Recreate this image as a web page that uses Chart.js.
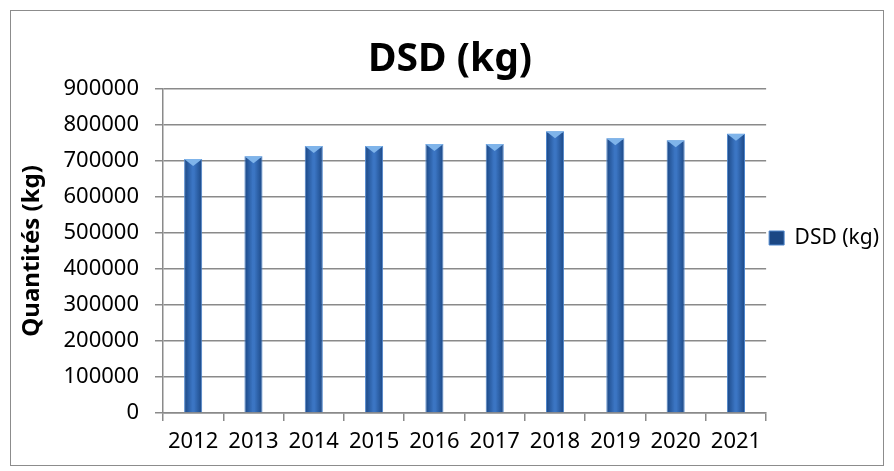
<!DOCTYPE html>
<html>
<head>
<meta charset="utf-8">
<script src="https://cdn.jsdelivr.net/npm/chart.js@4.4.0/dist/chart.umd.min.js"></script>
<style>
  body { margin: 0; background: #fff; }
  #frame { position: absolute; left: 10px; top: 10px; width: 872px; height: 454px; border: 1px solid #8c8c8c; }
  #wrap { position: absolute; left: 0; top: 0; width: 872px; height: 454px; }
</style>
</head>
<body>
<div id="frame"><div id="wrap"><canvas id="dsdChart"></canvas></div></div>
<script>
// values
var years = ['2012', '2013', '2014', '2015', '2016', '2017', '2018', '2019', '2020', '2021'];
var dsdValues = [705000, 713000, 741000, 741000, 747000, 747000, 782000, 763000, 757000, 775000];
var yTicks = [0, 100000, 200000, 300000, 400000, 500000, 600000, 700000, 800000, 900000];

var fontMain = "'Noto Sans', 'Open Sans', sans-serif";

function barFill(context) {
  var chart = context.chart;
  var xs = chart.scales && chart.scales.x;
  if (!xs || context.dataIndex === undefined || !chart.chartArea) return '#2f63ad';
  var cx = xs.getPixelForValue(context.dataIndex);
  var half = 9;
  var g = chart.ctx.createLinearGradient(cx - half, 0, cx + half, 0);
  g.addColorStop(0, '#1b4784');
  g.addColorStop(0.45, '#3b75c3');
  g.addColorStop(0.55, '#3b75c3');
  g.addColorStop(1, '#1b4784');
  return g;
}

// light blue wedge on top of each bar
var topCap = {
  id: 'topCap',
  afterDatasetsDraw: function (chart) {
    var ctx = chart.ctx;
    chart.getDatasetMeta(0).data.forEach(function (bar) {
      var w = bar.width / 2;
      ctx.save();
      ctx.fillStyle = '#7fb4ea';
      ctx.beginPath();
      ctx.moveTo(bar.x - w, bar.y);
      ctx.lineTo(bar.x + w, bar.y);
      ctx.lineTo(bar.x, bar.y + 7);
      ctx.closePath();
      ctx.fill();
      ctx.restore();
    });
  }
};

const ctx = document.getElementById('dsdChart').getContext('2d');

new Chart(ctx, {
  type: 'bar',
  data: {
    labels: years,
    datasets: [{
      label: 'DSD (kg)',
      data: dsdValues,
      backgroundColor: barFill,
      borderColor: '#4f86cc',
      borderWidth: 1,
      barPercentage: 0.3,
      categoryPercentage: 1
    }]
  },
  options: {
    responsive: true,
    maintainAspectRatio: false,
    animation: false,
    layout: { padding: { left: 0, right: -6, top: 0, bottom: 0 } },
    scales: {
      y: {
        min: 0,
        max: 900000,
        afterBuildTicks: function (axis) {
          axis.ticks = yTicks.map(function (v) { return { value: v }; });
        },
        afterFit: function (scale) { scale.width = 152; },
        grid: { color: '#8a8a8a', lineWidth: 1.5, tickLength: 8 },
        border: { color: '#8a8a8a', width: 1.5 },
        ticks: {
          color: '#000',
          font: { family: fontMain, size: 22 },
          padding: 16,
          callback: function (v) { return String(v); }
        },
        title: {
          display: true,
          text: 'Quantités (kg)',
          color: '#000',
          font: { family: fontMain, size: 24, weight: 'bold' },
          padding: { top: 7, bottom: 0 }
        }
      },
      x: {
        afterFit: function (scale) { scale.height = 52; },
        grid: { offset: true, drawOnChartArea: false, color: '#8a8a8a', lineWidth: 1.5, tickLength: 8 },
        border: { color: '#8a8a8a', width: 1.5 },
        ticks: { color: '#000', font: { family: fontMain, size: 22 }, padding: 8, maxRotation: 0 }
      }
    },
    plugins: {
      legend: {
        display: true,
        position: 'right',
        labels: {
          color: '#000',
          font: { family: fontMain, size: 21 },
          boxWidth: 15,
          boxHeight: 14,
          padding: 3
        }
      },
      title: {
        display: true,
        text: 'DSD (kg)',
        color: '#000',
        font: { family: fontMain, size: 39, weight: 'bold' },
        padding: { top: 25, bottom: 6 }
      },
      tooltip: { enabled: false }
    }
  },
  plugins: [topCap]
});
</script>
</body>
</html>
